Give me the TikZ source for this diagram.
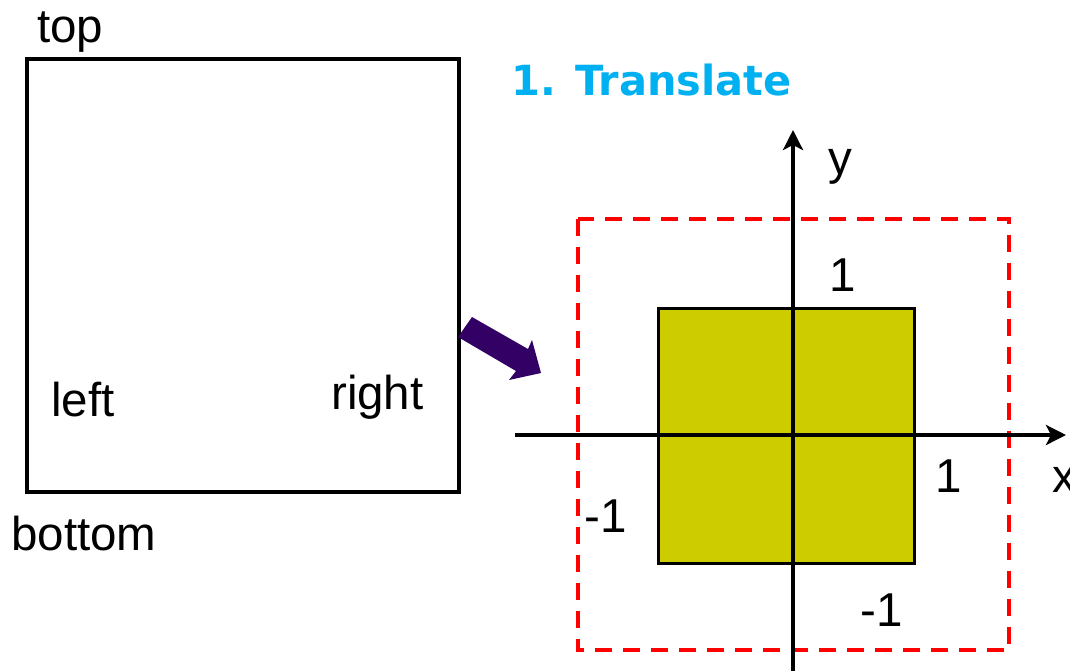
\documentclass[tikz,border=0pt]{standalone}
\usepackage{fontspec}
\setmainfont{Liberation Sans}
\newfontfamily\titlefont{DejaVu Sans}
\usetikzlibrary{arrows.meta}
\definecolor{titleblue}{RGB}{0,176,240}
\definecolor{squareyellow}{RGB}{204,204,0}
\definecolor{arrowpurple}{RGB}{51,0,102}
\tikzset{
  lbl/.style={anchor=base west, inner sep=0pt, font=\fontsize{47.5}{52}\selectfont},
  frame/.style={draw=black, line width=3.5pt},
  axis/.style={draw=black, line width=4pt, -{Stealth[length=20pt,width=20pt,inset=5pt]}},
  bounds/.style={draw=red, line width=3.5pt, dash pattern=on 17pt off 11pt},
}
\begin{document}
\begin{tikzpicture}[x=1pt, y=-1pt]
\useasboundingbox (0,0) rectangle (1070,670);
\clip (0,0) rectangle (1070,670);
\fill[white] (0,0) rectangle (1070,670);

% screen window
\node[frame, minimum width=432pt, minimum height=433pt, inner sep=0pt, anchor=north west] (win) at (25,57) {};
\node[lbl] (top) at (37,42) {top};
\node[lbl] (left) at (51,416) {left};
\node[lbl] (right) at (331,409) {right};
\node[lbl] (bottom) at (11,550) {bottom};

% transformation arrow
\fill[arrowpurple] (472,317) -- (528,349) -- (532,340) -- (541,373) -- (509,380) -- (516,371) -- (458,337) -- cycle;

\node[anchor=base west, inner sep=0pt, text=titleblue, font=\titlefont\bfseries\fontsize{41.5}{45}\selectfont] (title) at (511,95) {1. Translate};

% dashed extent
\draw[bounds] (578,219) rectangle (1009,650);

% unit square
\node[draw=black, line width=3pt, fill=squareyellow, minimum width=256pt, minimum height=255pt, inner sep=0pt, anchor=north west] (sq) at (657,307) {};

% axes
\coordinate (xs) at (515,435);
\coordinate (xe) at (1066,435);
\coordinate (ys) at (793,672);
\coordinate (ye) at (793,130);
\draw[axis] (xs) -- (xe);
\draw[axis] (ys) -- (ye);

\node[lbl] (ylab) at (828,174) {y};
\node[lbl] (xlab) at (1052,492) {x};
\node[lbl] (ytop) at (829,291) {1};
\node[lbl] (xright) at (935,492) {1};
\node[lbl] (xleft) at (584,532) {-1};
\node[lbl] (ybot) at (860,626) {-1};
\end{tikzpicture}
\end{document}
